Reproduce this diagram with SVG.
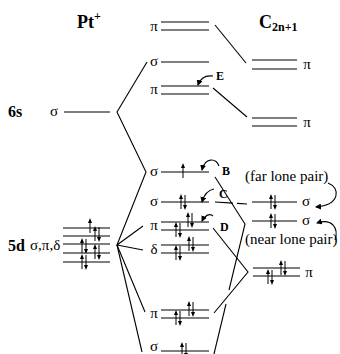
<svg xmlns="http://www.w3.org/2000/svg" xmlns:xlink="http://www.w3.org/1999/xlink" width="340" height="354" viewBox="0 0 340 354">
<defs>
<style>
.lv{stroke:#000;stroke-width:1.2;fill:none}
.cn{stroke:#000;stroke-width:1.1;fill:none}
.g{font-family:"Liberation Serif","Times New Roman","DejaVu Serif",serif;font-size:15px;fill:#000}
.b{font-family:"Liberation Serif","Times New Roman","DejaVu Serif",serif;font-weight:bold;fill:#000}
.e{stroke:#000;stroke-width:1;fill:none}
</style>
<marker id="ah" markerWidth="6" markerHeight="6" refX="5" refY="3" orient="auto" markerUnits="userSpaceOnUse">
<path d="M0,0L6,3L0,6Z" fill="#000"/>
</marker>
<g id="up"><path class="e" d="M0,7V-5"/><path d="M0,-8L-2,-3H2Z" fill="#000"/></g>
<g id="pair"><path class="e" d="M-2,7V-5M2,-7V5"/><path d="M-2,-8L-4,-3H0ZM2,8L0,3H4Z" fill="#000"/></g>
</defs>
<rect width="340" height="354" fill="#fff"/>

<g id="titles">
<text class="b" x="77" y="28" font-size="18">Pt<tspan font-size="12" dy="-8">+</tspan></text>
<text class="b" x="259" y="28" font-size="18">C<tspan font-size="12" dy="3">2n+1</tspan></text>
</g>

<g id="pt-6s">
<text class="b" x="8" y="117" font-size="16">6s</text>
<text class="g" x="54" y="116" text-anchor="middle">σ</text>
<path class="lv" d="M64,112H110"/>
</g>

<g id="pt-5d">
<text class="b" x="8" y="251" font-size="16">5d</text>
<text class="g" x="30" y="250">σ,π,δ</text>
<path class="lv" d="M63,228H110M63,236H110M63,244H110M63,253H110M63,262H110"/>
<use xlink:href="#up" x="90" y="226"/>
<use xlink:href="#pair" x="97" y="234"/>
<use xlink:href="#pair" x="84" y="246"/>
<use xlink:href="#pair" x="97" y="252"/>
<use xlink:href="#pair" x="84" y="262"/>
</g>

<g id="mo-pi-top">
<text class="g" x="154" y="31" text-anchor="middle">π</text>
<path class="lv" d="M161,22H209M161,30H209"/>
</g>
<g id="mo-sigma-top">
<text class="g" x="154" y="66" text-anchor="middle">σ</text>
<path class="lv" d="M161,62H209"/>
</g>
<g id="mo-pi-E">
<text class="g" x="154" y="94" text-anchor="middle">π</text>
<path class="lv" d="M161,86H209M161,94H209"/>
<text class="b" x="216" y="80" font-size="12">E</text>
<path class="cn" d="M213,76C205,75 200,79 198,85" marker-end="url(#ah)"/>
</g>
<g id="mo-sigma-B">
<text class="g" x="154" y="176" text-anchor="middle">σ</text>
<path class="lv" d="M161,172H209"/>
<use xlink:href="#up" x="183" y="171"/>
<text class="b" x="222" y="175" font-size="12">B</text>
<path class="cn" d="M219,166C216,158 205,157 202,170" marker-end="url(#ah)"/>
</g>
<g id="mo-sigma-C">
<text class="g" x="154" y="206" text-anchor="middle">σ</text>
<path class="lv" d="M161,202H209"/>
<use xlink:href="#pair" x="183" y="202"/>
<text class="b" x="219" y="198" font-size="12">C</text>
<path class="cn" d="M214,189C208,190 204,195 202,202" marker-end="url(#ah)"/>
</g>
<g id="mo-pi-D">
<text class="g" x="154" y="230" text-anchor="middle">π</text>
<path class="lv" d="M161,222H209M161,230H209"/>
<use xlink:href="#pair" x="190" y="220"/>
<use xlink:href="#pair" x="178" y="230"/>
<text class="b" x="220" y="231" font-size="12">D</text>
<path class="cn" d="M213,216C210,213 205,215 202,221" marker-end="url(#ah)"/>
</g>
<g id="mo-delta">
<text class="g" x="154" y="254" text-anchor="middle">δ</text>
<path class="lv" d="M161,245H209M161,253H209"/>
<use xlink:href="#pair" x="191" y="244"/>
<use xlink:href="#pair" x="178" y="253"/>
</g>
<g id="mo-pi-low">
<text class="g" x="154" y="318" text-anchor="middle">π</text>
<path class="lv" d="M161,310H209M161,318H209"/>
<use xlink:href="#pair" x="191" y="309"/>
<use xlink:href="#pair" x="178" y="318"/>
</g>
<g id="mo-sigma-low">
<text class="g" x="154" y="351" text-anchor="middle" font-size="14">σ</text>
<path class="lv" d="M161,351H209"/>
<use xlink:href="#pair" x="184" y="350"/>
</g>

<g id="c-pi-top">
<path class="lv" d="M252,60H297M252,69H297"/>
<text class="g" x="307" y="69" text-anchor="middle">π</text>
</g>
<g id="c-pi-mid">
<path class="lv" d="M252,118H297M252,126H297"/>
<text class="g" x="307" y="127" text-anchor="middle">π</text>
</g>
<g id="c-sigma-far">
<text class="g" x="245" y="181">(far lone pair)</text>
<path class="lv" d="M252,202H297"/>
<use xlink:href="#pair" x="273" y="202"/>
<text class="g" x="306" y="206" text-anchor="middle">σ</text>
<path class="cn" d="M328,183C341,188 340,205 316,207" marker-end="url(#ah)"/>
</g>
<g id="c-sigma-near">
<path class="lv" d="M252,221H297"/>
<use xlink:href="#pair" x="273" y="221"/>
<text class="g" x="306" y="225" text-anchor="middle">σ</text>
<text class="g" x="245" y="244">(near lone pair)</text>
<path class="cn" d="M335,240C339,228 332,218 317,223" marker-end="url(#ah)"/>
</g>
<g id="c-pi-low">
<path class="lv" d="M253,268H300M253,276H300"/>
<use xlink:href="#pair" x="283" y="268"/>
<use xlink:href="#pair" x="270" y="277"/>
<text class="g" x="309" y="277" text-anchor="middle">π</text>
</g>

<g id="connectors">
<path class="cn" d="M215,25L246,63"/>
<path class="cn" d="M213,88L247,117"/>
<path class="cn" d="M147,62L117,112L146,172L117,245"/>
<path class="cn" d="M143,226L117,245L143,250"/>
<path class="cn" d="M117,245L145,312"/>
<path class="cn" d="M117,245L142,352"/>
<path class="cn" d="M215,202L247,204" stroke-dasharray="18,4"/>
<path class="cn" d="M215,177L245,224L229,290"/>
<path class="cn" d="M226,304L214,354"/>
<path class="cn" d="M213,228L248,272L214,313"/>
</g>
</svg>
